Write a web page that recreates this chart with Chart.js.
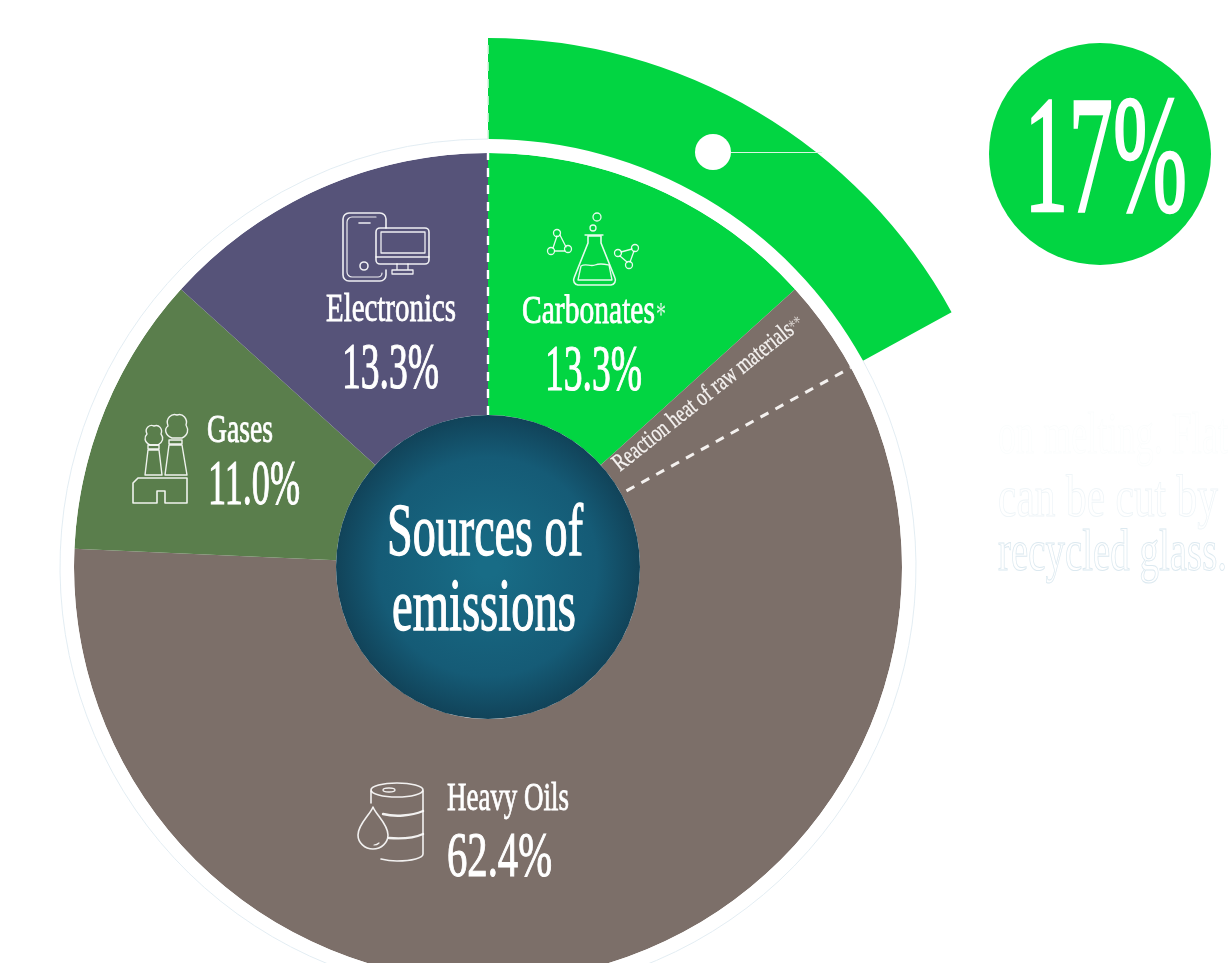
<!DOCTYPE html>
<html>
<head>
<meta charset="utf-8">
<title>Sources of emissions</title>
<script src="https://cdn.jsdelivr.net/npm/chart.js@4"></script>
<style>
  html, body { margin: 0; padding: 0; background: #fff; }
  #wrap { width: 1228px; height: 963px; position: relative; overflow: hidden; }
</style>
</head>
<body>
<div id="wrap"><canvas id="c-emissions" width="1228" height="963"></canvas></div>
<script>
const CATEGORIES = ['Carbonates', 'Heavy Oils', 'Gases', 'Electronics'];
const SHARES = [13.3, 62.4, 11.0, 13.3];
const SLICE_COLORS = ['#02d542', '#7c6f69', '#5a7e4c', '#565379'];
const RECYCLE_SHARE = 17;
const FADED_LINES = ['on melting. Flat', 'can be cut by', 'recycled glass.'];

const GREEN = '#02d542';
const SERIF = '"Liberation Serif", serif';

// text helper: squeezes the serif to a given width so it reads as a condensed didone
function fitText(ctx, str, x, base, size, width, opts = {}) {
    ctx.save();
    ctx.font = `${opts.weight || 'normal'} ${size}px ${SERIF}`;
    ctx.textAlign = 'left';
    ctx.textBaseline = 'alphabetic';
    ctx.translate(x, base);
    if (opts.rotate) ctx.rotate(opts.rotate);
    ctx.scale(width / ctx.measureText(str).width, 1);
    ctx.fillStyle = opts.color || '#fff';
    ctx.fillText(str, 0, 0);
    if (opts.outline) {
        ctx.strokeStyle = opts.outline;
        ctx.lineWidth = opts.lineWidth || 0.5;
        ctx.strokeText(str, 0, 0);
    }
    ctx.restore();
}

function strokePath(ctx, d, width) {
    ctx.lineWidth = width || 1.6;
    ctx.stroke(new Path2D(d));
}

function ellipseD(cx, cy, rx, ry) {
    return `M${cx - rx} ${cy}a${rx} ${ry} 0 1 0 ${2 * rx} 0a${rx} ${ry} 0 1 0 ${-2 * rx} 0z`;
}

function drawIcons(ctx) {
    ctx.save();
    ctx.strokeStyle = '#fff';
    ctx.lineJoin = 'round';
    ctx.lineCap = 'round';

    // phone and monitor
    ctx.globalAlpha = 0.9;
    strokePath(ctx, 'M386 228V219a6 6 0 0 0-6-6H349a6 6 0 0 0-6 6V275a6 6 0 0 0 6 6H380a6 6 0 0 0 6-6V270');
    strokePath(ctx, 'M376 217H352a5 5 0 0 0-5 5V272a5 5 0 0 0 5 5H378a4 4 0 0 0 4-4', 1.2);
    strokePath(ctx, 'M359 223H370');
    strokePath(ctx, ellipseD(364, 266, 4, 4));
    strokePath(ctx, 'M380 228H425a4 4 0 0 1 4 4V260a4 4 0 0 1-4 4H380a4 4 0 0 1-4-4V232a4 4 0 0 1 4-4z');
    strokePath(ctx, 'M381 232H425V253H381zM376 257H429M397 264V270M408 264V270M392 270H413V274H392z', 1.3);

    // factory and smoke
    strokePath(ctx, 'M133 503V483l5-5H187V503H165V491H157V503z');
    strokePath(ctx, 'M145 475L148 450H159L162 475zM165 475L169 445H182L187 475zM148 445H159V449H148zM169 440H182V444H169z', 1.4);
    strokePath(ctx, 'M150 445c-6-3-6-8-3-11c-3-6 3-10 7-8c5-2 9 3 7 8c3 4 2 8-3 11z', 1.4);
    strokePath(ctx, 'M172 438c-7-3-8-9-4-12c-3-8 4-13 9-11c6-2 11 4 9 10c3 5 2 10-4 13z', 1.4);

    // flask, bubbles and molecules
    strokePath(ctx, 'M588 236H601V243L615 278a5 5 0 0 1-4 7H578a5 5 0 0 1-4-7L588 243z');
    strokePath(ctx, 'M585 235H603M581 266c5-3 9 1 14-1c5-2 9-1 14 0L612 280H578z', 1.3);
    strokePath(ctx, ellipseD(593, 228, 3, 3) + ellipseD(597, 217, 4, 4), 1.3);
    strokePath(ctx, 'M557 236L553 248M560 235L566 247M555 251H565', 1.3);
    strokePath(ctx, ellipseD(557, 233, 3.5, 3.5) + ellipseD(551, 251, 3.5, 3.5) + ellipseD(568, 249, 3.5, 3.5), 1.3);
    strokePath(ctx, 'M632 249L621 252M620 256L627 262M634 251L630 262', 1.3);
    strokePath(ctx, ellipseD(635, 248, 3.5, 3.5) + ellipseD(618, 253, 3.5, 3.5) + ellipseD(629, 265, 3.5, 3.5), 1.3);

    // oil drum and drop
    strokePath(ctx, ellipseD(397, 790, 26, 7), 1.7);
    strokePath(ctx, ellipseD(389, 790, 6, 2), 1.3);
    strokePath(ctx, 'M371 791V803M423 791V854c0 4-11 7-26 7c-6 0-12-1-16-2');
    strokePath(ctx, 'M383 814c12 3 28 2 40-3', 2.4);
    strokePath(ctx, 'M389 838c12 1 25 0 34-4', 2.4);
    strokePath(ctx, 'M373 807c-3 8-15 17-15 28a15 14 0 0 0 30 0c0-11-12-20-15-28z');
    strokePath(ctx, 'M379 843c-1 1-3 2-5 2', 1.2);
    ctx.restore();
}

function drawLabels(ctx) {
    const [carb, oils, gases, elec] = SHARES.map(v => v.toFixed(1) + '%');
    const name = { outline: '#fff', lineWidth: 0.8 };
    const figure = { outline: '#fff', lineWidth: 1.1 };

    fitText(ctx, CATEGORIES[3], 326, 321, 41, 130, name);
    fitText(ctx, elec, 342, 388, 65, 97, figure);
    fitText(ctx, CATEGORIES[2], 207, 442, 40, 66, name);
    fitText(ctx, gases, 208, 504, 63, 92, figure);
    fitText(ctx, CATEGORIES[0], 522, 323, 41, 133, name);
    fitText(ctx, '*', 656, 325, 34, 10, { color: '#d8f7e2' });
    fitText(ctx, carb, 545, 390, 65, 97, figure);
    fitText(ctx, CATEGORIES[1], 447, 810, 41, 122, name);
    fitText(ctx, oils, 447, 876, 63, 105, figure);

    const slant = -38.5 * Math.PI / 180;
    fitText(ctx, 'Reaction heat of raw materials', 620, 472, 25, 224, { rotate: slant, color: '#f5f2f0', outline: '#f5f2f0', lineWidth: 0.3 });
    fitText(ctx, '**', 795, 333, 20, 13, { rotate: slant, color: '#d9d3cf' });

    const title = { outline: '#fff', lineWidth: 1.3 };
    fitText(ctx, 'Sources of', 387, 555, 74, 196, title);
    fitText(ctx, 'emissions', 392, 630, 74, 184, title);
}

function drawCallout(ctx) {
    // leader from the outer arc across to the big number
    ctx.fillStyle = '#fff';
    ctx.beginPath();
    ctx.arc(713, 152, 18, 0, Math.PI * 2);
    ctx.fill();
    ctx.strokeStyle = '#d9f6e3';
    ctx.lineWidth = 1.2;
    ctx.beginPath();
    ctx.moveTo(731, 152.5);
    ctx.lineTo(822, 152.5);
    ctx.stroke();

    ctx.fillStyle = GREEN;
    ctx.beginPath();
    ctx.arc(1100, 154, 111, 0, Math.PI * 2);
    ctx.fill();
    fitText(ctx, RECYCLE_SHARE + '%', 1024, 211, 168, 163, { outline: '#fff', lineWidth: 2.6 });

    const tints = ['#fbfdfd', '#eff5f8', '#dce9f0'];
    const widths = [230, 220, 229];
    const baselines = [453, 516, 570];
    FADED_LINES.forEach((line, i) => {
        fitText(ctx, line, 998, baselines[i], 60, widths[i], { color: '#fff', outline: tints[i], lineWidth: 1 });
    });
}

// dashed spokes, rim and hub sit on top of the doughnut and follow its own arcs
const overlayPlugin = {
    id: 'overlay',
    afterDatasetsDraw(chart) {
        const ctx = chart.ctx;
        const outer = chart.getDatasetMeta(0);
        const ring = chart.getDatasetMeta(1);
        const main = chart.getDatasetMeta(2);
        const { x, y, innerRadius, outerRadius } = main.data[0];
        const rimR = ring.data[0].outerRadius;
        const topR = outer.data[0].outerRadius;
        const spoke = (angle, r0, r1, color, w) => {
            ctx.save();
            ctx.strokeStyle = color;
            ctx.lineWidth = w;
            ctx.setLineDash([9, 8]);
            ctx.beginPath();
            ctx.moveTo(x + Math.cos(angle) * r0, y + Math.sin(angle) * r0);
            ctx.lineTo(x + Math.cos(angle) * r1, y + Math.sin(angle) * r1);
            ctx.stroke();
            ctx.restore();
        };

        ctx.save();
        ctx.strokeStyle = '#e3edf3';
        ctx.lineWidth = 1;
        ctx.beginPath();
        ctx.arc(x, y, rimR, outer.data[0].endAngle, main.data[0].startAngle + Math.PI * 2);
        ctx.stroke();
        ctx.restore();

        spoke(main.data[0].startAngle, innerRadius, outerRadius, '#fff', 2.4);
        spoke(main.data[0].startAngle, rimR, topR, '#d6f5e0', 1.6);
        spoke(outer.data[0].endAngle, innerRadius + 6, outerRadius, '#f4f1ef', 3);

        const hub = ctx.createRadialGradient(x, y, 10, x, y, innerRadius);
        hub.addColorStop(0, '#186c86');
        hub.addColorStop(0.7, '#155b76');
        hub.addColorStop(1, '#114359');
        ctx.fillStyle = hub;
        ctx.beginPath();
        ctx.arc(x, y, innerRadius, 0, Math.PI * 2);
        ctx.fill();

        drawIcons(ctx);
        drawLabels(ctx);
        drawCallout(ctx);
    }
};

new Chart(document.getElementById('c-emissions'), {
    type: 'doughnut',
    data: {
        labels: CATEGORIES,
        datasets: [
            { data: [RECYCLE_SHARE, 100 - RECYCLE_SHARE], backgroundColor: [GREEN, 'transparent'], weight: 101, clip: false },
            { data: [100], backgroundColor: ['#fff'], weight: 14, clip: false },
            { data: SHARES, backgroundColor: SLICE_COLORS, weight: 262, clip: false }
        ]
    },
    options: {
        responsive: false,
        animation: false,
        radius: 529,
        cutout: (152 / 529 * 100) + '%',
        borderWidth: 0,
        layout: { padding: { top: 171, right: 252 } },
        plugins: { legend: { display: false }, tooltip: { enabled: false } }
    },
    plugins: [overlayPlugin]
});
</script>
</body>
</html>
